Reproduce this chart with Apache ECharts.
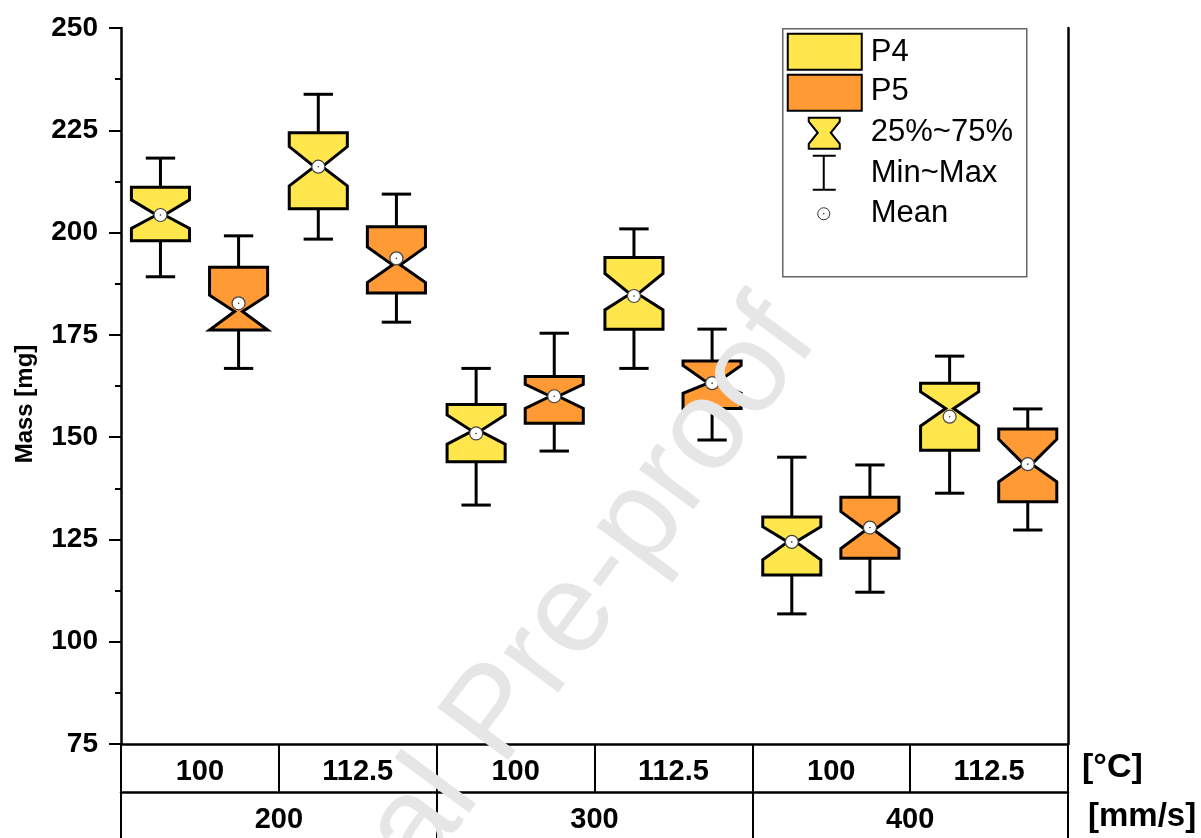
<!DOCTYPE html>
<html>
<head>
<meta charset="utf-8">
<script src="https://cdn.jsdelivr.net/npm/echarts@6/dist/echarts.min.js"></script>
<style>
  html, body { margin: 0; padding: 0; background: #fff; }
  #chart { width: 1201px; height: 838px; }
</style>
</head>
<body>
<div id="chart"></div>
<script>
// categories: temperature (inner row) and print speed (outer row)
const temps = ['100', '112.5', '100', '112.5', '100', '112.5'];
const speeds = ['200', '300', '400'];
const yTicks = [75, 100, 125, 150, 175, 200, 225, 250];

// P4
const p4Min = [189.2, 198.4, 133.4, 166.8, 106.8, 136.3];
const p4Q1 = [198.0, 205.8, 144.0, 176.4, 116.3, 146.8];
const p4NotchLow = [201.0, 211.4, 148.3, 181.1, 120.0, 152.7];
const p4Median = [204.3, 216.1, 151.5, 185.0, 124.4, 157.0];
const p4NotchHigh = [208.0, 221.0, 155.4, 190.0, 128.1, 161.1];
const p4Q3 = [211.1, 224.4, 158.0, 193.9, 130.5, 163.2];
const p4Max = [218.2, 233.8, 166.8, 200.9, 145.1, 169.8];
const p4Mean = [204.3, 216.1, 150.9, 184.5, 124.4, 155.0];

// P5
const p5Min = [166.8, 178.1, 146.6, 149.3, 112.1, 127.3];
const p5Q1 = [176.2, 185.2, 153.4, 157.0, 120.4, 134.2];
const p5NotchLow = [176.2, 187.8, 157.0, 160.7, 122.8, 139.1];
const p5Median = [180.7, 192.1, 160.0, 163.2, 127.3, 143.4];
const p5NotchHigh = [184.7, 196.5, 162.9, 167.5, 131.8, 149.5];
const p5Q3 = [191.5, 201.4, 164.8, 168.6, 135.3, 152.0];
const p5Max = [199.2, 209.4, 175.4, 176.4, 143.2, 156.9];
const p5Mean = [182.7, 193.7, 160.0, 163.2, 127.9, 143.4];

const YELLOW = '#FFE64D';
const ORANGE = '#FF9A35';
const FONT = 'Liberation Sans, Arial, sans-serif';

function toRows(min, q1, nl, med, nh, q3, max, mean) {
  return temps.map((_, i) => [i, min[i], q1[i], nl[i], med[i], nh[i], q3[i], max[i], mean[i]]);
}

function notchedBox(offset, color) {
  return function (params, api) {
    const i = api.value(0);
    const band = api.size([1, 0])[0];
    const cx = api.coord([i, 0])[0] + band * offset;
    const hw = band * 0.184;
    const cap = band * 0.093;
    const waist = 4;
    const y = k => api.coord([i, api.value(k)])[1];
    const yMin = y(1), yQ1 = y(2), yNL = y(3), yMed = y(4), yNH = y(5), yQ3 = y(6), yMax = y(7), yMean = y(8);
    const line = { stroke: '#000', lineWidth: 3 };
    return {
      type: 'group',
      children: [
        { type: 'line', shape: { x1: cx, y1: yQ3, x2: cx, y2: yMax }, style: line },
        { type: 'line', shape: { x1: cx - cap, y1: yMax, x2: cx + cap, y2: yMax }, style: line },
        { type: 'line', shape: { x1: cx, y1: yQ1, x2: cx, y2: yMin }, style: line },
        { type: 'line', shape: { x1: cx - cap, y1: yMin, x2: cx + cap, y2: yMin }, style: line },
        {
          type: 'polygon',
          shape: {
            points: [
              [cx - hw, yQ3], [cx + hw, yQ3], [cx + hw, yNH], [cx + waist, yMed],
              [cx + hw, yNL], [cx + hw, yQ1], [cx - hw, yQ1], [cx - hw, yNL],
              [cx - waist, yMed], [cx - hw, yNH]
            ]
          },
          style: { fill: color, stroke: '#000', lineWidth: 3, lineJoin: 'miter' }
        },
        { type: 'circle', shape: { cx: cx, cy: yMean, r: 6.5 }, style: { fill: '#fff', stroke: '#444', lineWidth: 1.2 } },
        { type: 'circle', shape: { cx: cx, cy: yMean, r: 0.8 }, style: { fill: '#333' } }
      ]
    };
  };
}

const legendText = { fontSize: 31, fontFamily: FONT, fill: '#000', verticalAlign: 'middle' };
const boldText = { fontWeight: 'bold', color: '#000', fontFamily: FONT };

const chart = echarts.init(document.getElementById('chart'));
chart.setOption({
  animation: false,
  backgroundColor: '#fff',
  grid: { left: 121, right: 133, top: 28, bottom: 94, outerBoundsMode: 'none' },
  xAxis: [
    {
      type: 'category',
      data: temps,
      position: 'bottom',
      axisLine: { lineStyle: { color: '#000', width: 2.5 } },
      axisTick: { show: true, interval: 0, length: 48, lineStyle: { color: '#000', width: 2 } },
      axisLabel: Object.assign({ interval: 0, margin: 13, fontSize: 29 }, boldText),
      name: '[°C]',
      nameLocation: 'end',
      nameGap: 14,
      nameTextStyle: Object.assign({ fontSize: 34, verticalAlign: 'top', padding: [7, 0, 0, 0] }, boldText)
    },
    {
      type: 'category',
      data: speeds,
      position: 'bottom',
      offset: 48,
      axisLine: { lineStyle: { color: '#000', width: 2.5 } },
      axisTick: { show: true, interval: 0, length: 60, lineStyle: { color: '#000', width: 2 } },
      axisLabel: Object.assign({ interval: 0, margin: 13, fontSize: 29 }, boldText),
      name: '[mm/s]',
      nameLocation: 'end',
      nameGap: 20,
      nameTextStyle: Object.assign({ fontSize: 33, verticalAlign: 'top', padding: [8, 0, 0, 0] }, boldText)
    }
  ],
  yAxis: [
    {
      type: 'value',
      min: yTicks[0],
      max: yTicks[yTicks.length - 1],
      interval: 25,
      name: 'Mass [mg]',
      nameLocation: 'middle',
      nameGap: 84,
      nameTextStyle: Object.assign({ fontSize: 24, padding: [0, 36, 0, 0] }, boldText),
      axisLine: { show: true, lineStyle: { color: '#000', width: 2.5 } },
      axisTick: { show: true, length: 12, lineStyle: { color: '#000', width: 2 } },
      minorTick: { show: true, splitNumber: 2, length: 6, lineStyle: { color: '#000', width: 2 } },
      axisLabel: Object.assign({ margin: 23, fontSize: 28 }, boldText),
      splitLine: { show: false }
    },
    {
      type: 'value',
      position: 'right',
      min: yTicks[0],
      max: yTicks[yTicks.length - 1],
      interval: 25,
      axisLine: { show: true, lineStyle: { color: '#000', width: 2.5 } },
      axisTick: { show: false },
      axisLabel: { show: false },
      splitLine: { show: false }
    }
  ],
  series: [
    {
      name: 'P4',
      type: 'custom',
      xAxisIndex: 0,
      yAxisIndex: 0,
      renderItem: notchedBox(-0.25, YELLOW),
      encode: { x: 0, y: [1, 2, 3, 4, 5, 6, 7, 8] },
      data: toRows(p4Min, p4Q1, p4NotchLow, p4Median, p4NotchHigh, p4Q3, p4Max, p4Mean),
      itemStyle: { color: YELLOW }
    },
    {
      name: 'P5',
      type: 'custom',
      xAxisIndex: 0,
      yAxisIndex: 0,
      renderItem: notchedBox(0.245, ORANGE),
      encode: { x: 0, y: [1, 2, 3, 4, 5, 6, 7, 8] },
      data: toRows(p5Min, p5Q1, p5NotchLow, p5Median, p5NotchHigh, p5Q3, p5Max, p5Mean),
      itemStyle: { color: ORANGE }
    }
  ],
  graphic: [
    {
      type: 'group',
      left: 782,
      top: 28,
      z: 50,
      children: [
        { type: 'rect', shape: { x: 0, y: 0, width: 244, height: 248 }, style: { fill: '#fff', stroke: '#666', lineWidth: 1.5 } },
        { type: 'rect', shape: { x: 5, y: 5, width: 74, height: 36 }, style: { fill: YELLOW, stroke: '#000', lineWidth: 2 } },
        { type: 'rect', shape: { x: 5, y: 46, width: 74, height: 36 }, style: { fill: ORANGE, stroke: '#000', lineWidth: 2 } },
        {
          type: 'polygon',
          shape: { points: [[26, 89], [57, 89], [57, 93], [48, 104], [57, 115], [57, 120], [26, 120], [26, 115], [35, 104], [26, 93]] },
          style: { fill: YELLOW, stroke: '#000', lineWidth: 2 }
        },
        { type: 'line', shape: { x1: 41, y1: 127, x2: 41, y2: 161 }, style: { stroke: '#000', lineWidth: 2 } },
        { type: 'line', shape: { x1: 30, y1: 127, x2: 53, y2: 127 }, style: { stroke: '#000', lineWidth: 2 } },
        { type: 'line', shape: { x1: 30, y1: 161, x2: 53, y2: 161 }, style: { stroke: '#000', lineWidth: 2 } },
        { type: 'circle', shape: { cx: 41, cy: 185, r: 6 }, style: { fill: '#fff', stroke: '#333', lineWidth: 1 } },
        { type: 'circle', shape: { cx: 41, cy: 185, r: 0.8 }, style: { fill: '#333' } },
        { type: 'text', x: 88, y: 24, style: Object.assign({ text: 'P4' }, legendText) },
        { type: 'text', x: 88, y: 63, style: Object.assign({ text: 'P5' }, legendText) },
        { type: 'text', x: 88, y: 104, style: Object.assign({ text: '25%~75%' }, legendText) },
        { type: 'text', x: 88, y: 145, style: Object.assign({ text: 'Min~Max' }, legendText) },
        { type: 'text', x: 88, y: 185, style: Object.assign({ text: 'Mean' }, legendText) }
      ]
    },
    {
      // watermark
      type: 'text',
      x: 497,
      y: 716,
      rotation: 53.5 * Math.PI / 180,
      z: 100,
      silent: true,
      style: {
        text: 'Journal Pre-proof',
        fontSize: 128,
        fontFamily: FONT,
        fill: '#e6e6e6',
        align: 'center',
        verticalAlign: 'middle'
      }
    }
  ]
});
</script>
</body>
</html>
